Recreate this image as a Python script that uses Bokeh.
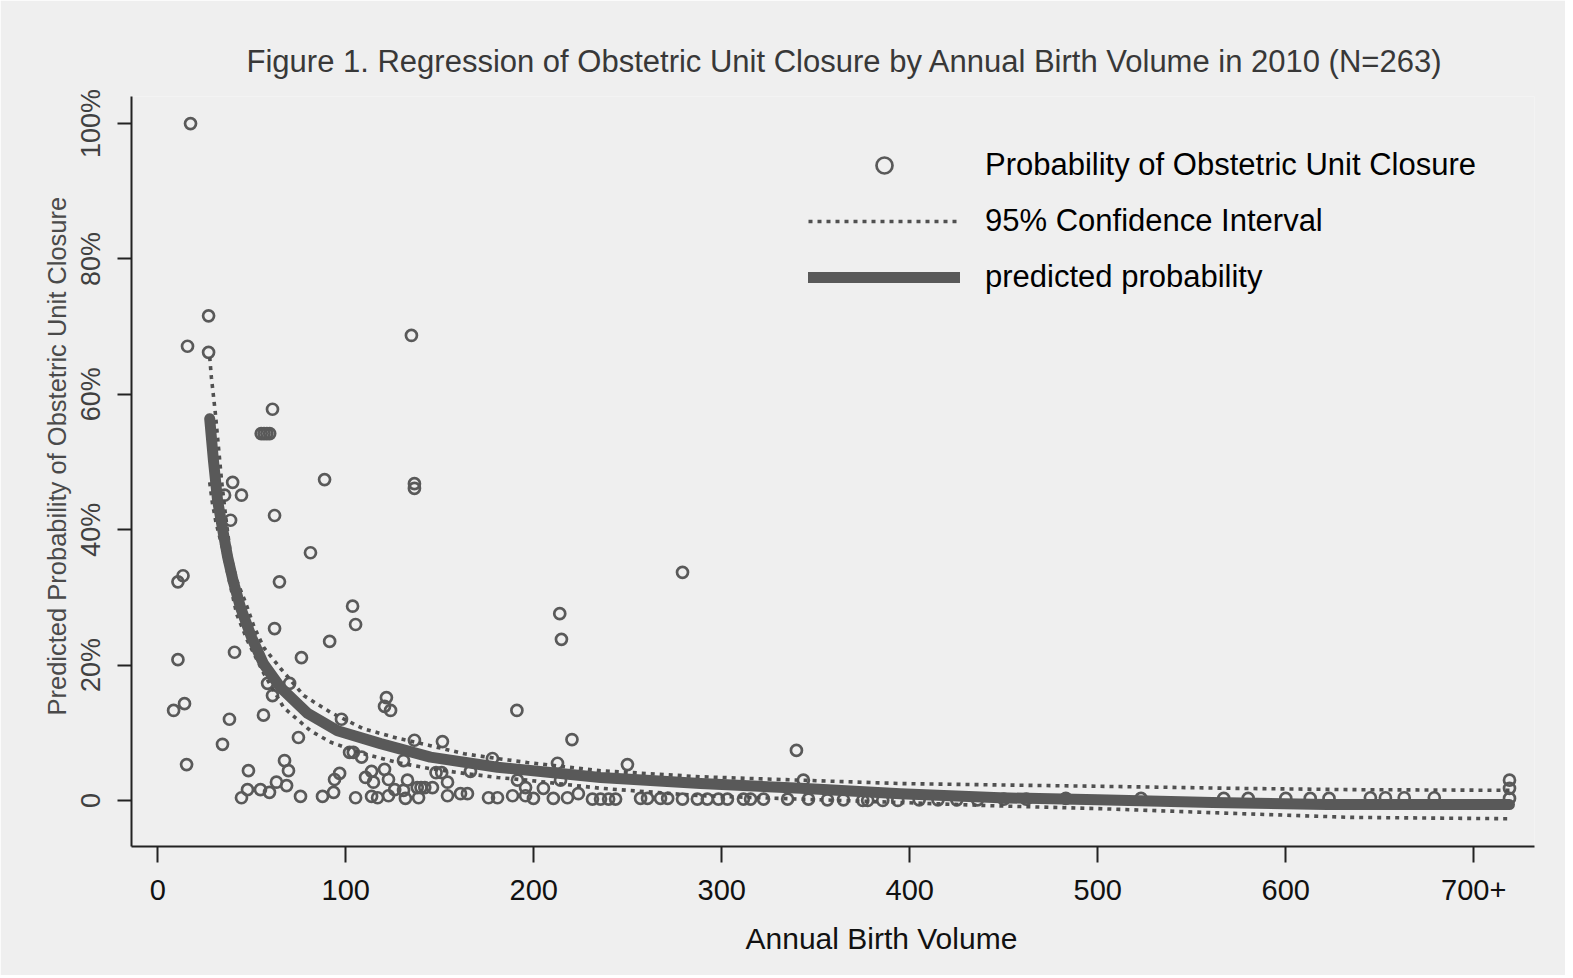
import math
from bokeh.plotting import figure
from bokeh.models import Range1d, FixedTicker, Legend, LegendItem, Title
from bokeh.embed import file_html
from bokeh.resources import INLINE

# ---------------- data ----------------
title_text = "Figure 1. Regression of Obstetric Unit Closure by Annual Birth Volume in 2010 (N=263)"
x_title = "Annual Birth Volume"
y_title = "Predicted Probability of Obstetric Unit Closure"

x_ticks = [0, 100, 200, 300, 400, 500, 600, 700]
x_tick_labels = ["0", "100", "200", "300", "400", "500", "600", "700+"]
y_ticks = [0, 20, 40, 60, 80, 100]
y_tick_labels = ["0", "20%", "40%", "60%", "80%", "100%"]

# observed probability (hollow circles), y in percent
obs_x = [17.4, 15.8, 27.0, 27.0, 134.9, 61.0, 55.0, 56.5, 58.0, 59.5, 88.7, 136.5, 136.5, 39.8, 44.5, 35.5, 38.7, 62.1, 81.2,
         13.4, 10.7, 64.7, 103.6, 105.2, 62.1, 91.4, 40.8, 76.4, 10.7, 58.4, 61.0, 70.1, 121.6, 120.6, 123.8, 8.4, 14.2, 38.1,
         56.2, 34.4, 74.8, 97.7, 191.0, 15.3, 48.2, 67.4, 69.5,
         44.5, 47.7, 54.6, 59.4, 63.1, 68.5, 75.9, 87.6, 93.5, 94.0, 96.7, 105.2, 108.4, 102.0, 104.0, 110.5, 113.7, 114.7,
         113.7, 116.9, 120.6, 122.7, 122.7, 126.0, 130.7, 131.7, 132.8, 136.5, 130.7, 138.0, 140.0, 142.0, 138.7, 146.1,
         151.4, 148.0, 151.0, 154.1, 154.1, 161.0, 164.7, 166.3, 178.0, 175.9, 180.7, 188.7, 191.3, 195.6, 195.6,
         213.8, 214.7, 279.1, 220.3, 339.7, 212.6, 249.8, 343.4, 199.8, 205.1, 210.4, 217.9, 223.7, 214.2,
         231.2, 235.5, 239.8, 243.5, 256.8, 260.5, 267.4, 271.2, 279.1, 287.0, 292.3, 298.2, 303.0, 311.5, 315.3, 322.2,
         335.0, 346.1, 356.2, 364.7, 375.0, 377.6, 385.6, 393.6, 405, 415, 425, 436, 450, 462,
         483, 523, 567, 580, 600, 613, 623, 645, 653, 663, 679, 719, 719, 719]
obs_y = [100, 67.1, 71.6, 66.2, 68.7, 57.8, 54.2, 54.2, 54.2, 54.2, 47.4, 46.8, 46.1, 47.0, 45.1, 45.1, 41.4, 42.1, 36.6,
         33.2, 32.3, 32.3, 28.7, 26.0, 25.4, 23.5, 21.9, 21.1, 20.8, 17.3, 15.5, 17.3, 15.2, 13.9, 13.3, 13.3, 14.3, 12.0,
         12.6, 8.3, 9.3, 12.0, 13.3, 5.3, 4.4, 5.9, 4.4,
         0.4, 1.6, 1.6, 1.2, 2.7, 2.2, 0.6, 0.6, 1.2, 3.1, 4.0, 0.4, 6.4, 7.1, 7.1, 3.4, 4.3, 2.7,
         0.6, 0.4, 4.6, 3.1, 0.7, 1.6, 1.5, 0.3, 3.0, 8.9, 5.9, 1.9, 1.9, 1.9, 0.4, 1.9,
         8.7, 4.1, 4.1, 2.7, 0.7, 1.0, 1.0, 4.3, 6.2, 0.4, 0.4, 0.7, 3.0, 1.9, 0.7,
         27.6, 23.8, 33.7, 9.0, 7.4, 5.5, 5.3, 3.0, 0.3, 1.8, 0.3, 0.4, 1.0, 3.0,
         0.2, 0.2, 0.2, 0.2, 0.3, 0.3, 0.3, 0.3, 0.2, 0.2, 0.2, 0.2, 0.2, 0.2, 0.2, 0.2,
         0.2, 0.2, 0.1, 0.1, 0.0, 0.0, 0.0, 0.0, 0.1, 0.1, 0.1, 0.1, 0.2, 0.2,
         0.3, 0.3, 0.3, 0.3, 0.3, 0.3, 0.3, 0.4, 0.4, 0.4, 0.4, 3.0, 1.8, 0.3]

# predicted probability curve
fit_x = [27.6, 29.6, 31.8, 34.9, 37.1, 40, 44, 50, 56.2, 65.3, 79.6, 95.6, 118.5, 145, 180.7, 235.5, 288.7,
         342, 395, 448, 500, 561, 622, 680, 719]
fit_y = [56.4, 50.2, 44.3, 39.4, 36.0, 32.5, 28.5, 24.0, 20.2, 16.7, 12.9, 10.3, 8.4, 6.4, 4.9, 3.4, 2.5,
         1.8, 1.0, 0.4, 0.1, -0.3, -0.6, -0.6, -0.6]

# 95% confidence interval bounds
ci_up_x = [27.6, 28.5, 29.5, 30.5, 32, 34, 36.5, 38.8, 42, 46.7, 51, 56.3, 65.3, 77.6, 92, 109.4, 127.5, 145,
           163, 180.6, 196.6, 235.5, 288.7, 342, 395, 446, 500, 571, 635, 719]
ci_up_y = [65.5, 62.5, 60, 57.5, 53, 47, 41, 36, 32.5, 29.2, 25.8, 22.6, 19.5, 15.5, 13.0, 10.6, 9.2, 8.1,
           6.9, 6.2, 5.6, 4.4, 3.5, 3.0, 2.5, 2.3, 2.1, 1.8, 1.6, 1.5]
ci_lo_x = [27.6, 29, 31, 34.5, 38.8, 42, 47.7, 56.3, 67, 81.2, 92, 109.4, 127.5, 145, 163, 180.6, 196.6,
           235.5, 288.7, 342, 395, 446, 500, 571, 635, 719]
ci_lo_y = [47, 44, 41, 37.2, 31.5, 27.5, 23.6, 18.8, 13.7, 10.3, 8.6, 6.9, 5.6, 4.7, 4.0, 3.4, 3.0,
           1.8, 0.7, 0.2, -0.3, -0.8, -1.2, -1.9, -2.5, -2.7]

legend_labels = ["Probability of Obstetric Unit Closure", "95% Confidence Interval", "predicted probability"]

# ---------------- styling ----------------
FONT = "Liberation Sans"
BG = "#efefef"
MARK = "#595959"

p = figure(width=1565, height=975,
           x_range=Range1d(-14.0, 732.3), y_range=Range1d(-6.8, 104.0),
           output_backend="svg", toolbar_location=None,
           min_border_left=131, min_border_right=31, min_border_top=96, min_border_bottom=129,
           background_fill_color=BG, border_fill_color=BG, outline_line_color=None)

p.title.text = title_text
p.title.text_font = FONT
p.title.text_font_size = "31px"
p.title.text_font_style = "normal"
p.title.text_color = "#383838"
p.title.align = "left"
p.title.offset = 115
p.title.standoff = 35

p.xgrid.visible = False
p.ygrid.visible = False

xa = p.xaxis[0]
xa.ticker = FixedTicker(ticks=x_ticks)
xa.major_label_overrides = {t: l for t, l in zip(x_ticks, x_tick_labels)}
xa.major_label_text_font = FONT
xa.major_label_text_font_size = "29px"
xa.major_label_text_color = "#111111"
xa.major_label_standoff = 17
xa.major_tick_out = 16
xa.major_tick_in = 0
xa.minor_tick_out = 0
xa.minor_tick_in = 0
xa.axis_line_width = 2
xa.axis_line_color = "#222222"
xa.major_tick_line_width = 2
xa.major_tick_line_color = "#222222"

ya = p.yaxis[0]
ya.ticker = FixedTicker(ticks=y_ticks)
ya.major_label_overrides = {t: l for t, l in zip(y_ticks, y_tick_labels)}
ya.major_label_orientation = "vertical"
ya.major_label_text_font = FONT
ya.major_label_text_font_size = "27px"
ya.major_label_text_color = "#404040"
ya.major_label_standoff = 11
ya.major_tick_out = 14
ya.major_tick_in = 0
ya.minor_tick_out = 0
ya.minor_tick_in = 0
ya.axis_line_width = 2
ya.axis_line_color = "#222222"
ya.major_tick_line_width = 2
ya.major_tick_line_color = "#222222"

# axis titles as side titles (allow off-centre placement like the reference)
xt = Title(text=x_title, text_font=FONT, text_font_size="30px", text_font_style="normal",
           text_color="#111111", align="left", offset=614, standoff=35)
p.add_layout(xt, "below")
yt = Title(text=y_title, text_font=FONT, text_font_size="25.5px", text_font_style="normal",
           text_color="#4a4a4a", align="left", offset=131, standoff=6)
p.add_layout(yt, "left")

# ---------------- glyphs ----------------
r_obs = p.scatter(obs_x, obs_y, marker="circle", size=11, fill_color=None,
                  line_color=MARK, line_width=2.7)
r_up = p.line(ci_up_x, ci_up_y, line_color="#505050", line_width=3.6, line_dash="4 5")
r_lo = p.line(ci_lo_x, ci_lo_y, line_color="#505050", line_width=3.6, line_dash="4 5")
r_fit = p.line(fit_x, fit_y, line_color=MARK, line_width=11, line_cap="round", line_join="round")

legend = Legend(items=[LegendItem(label=legend_labels[0], renderers=[r_obs]),
                       LegendItem(label=legend_labels[1], renderers=[r_up]),
                       LegendItem(label=legend_labels[2], renderers=[r_fit])],
                location=(677, 549))
legend.glyph_width = 152
legend.glyph_height = 40
legend.label_height = 40
legend.label_standoff = 25
legend.spacing = 16
legend.padding = 0
legend.margin = 0
legend.border_line_alpha = 0
legend.background_fill_alpha = 0
legend.label_text_font = FONT
legend.label_text_font_size = "31px"
legend.label_text_color = "#000000"
p.add_layout(legend, "center")

open("out.html", "w").write(file_html(p, INLINE))
